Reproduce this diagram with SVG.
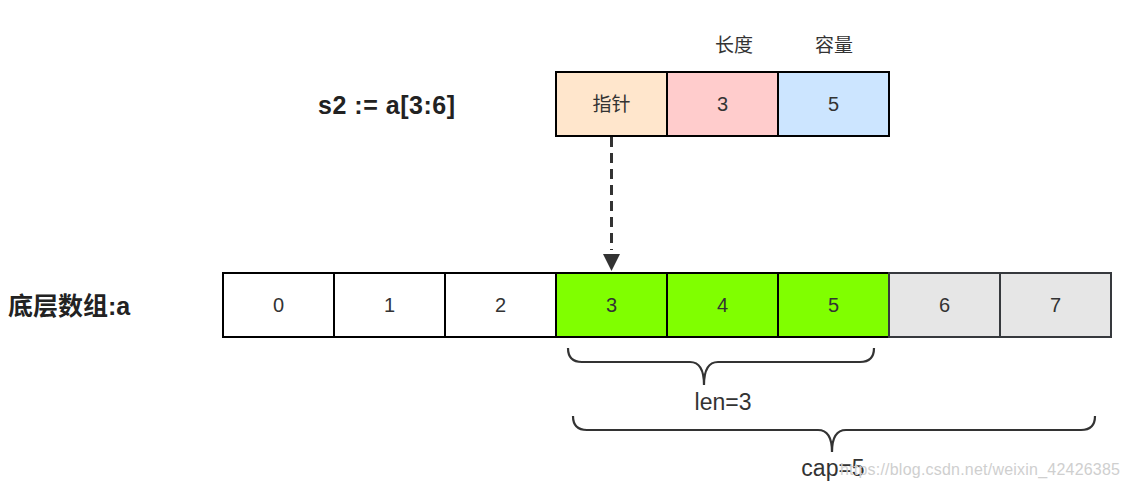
<svg xmlns="http://www.w3.org/2000/svg" width="1129" height="492" viewBox="0 0 1129 492">
<style>
.cell{stroke:#000;stroke-width:2}
.gcell{stroke:#36393d;stroke-width:2;fill:#e6e6e6}
.t{font-family:"Liberation Sans","Noto Sans CJK SC",sans-serif;fill:#333;text-anchor:middle}
.num{font-size:20px}
.lbl{font-family:"Liberation Sans","Noto Sans CJK SC",sans-serif;fill:#222;font-weight:bold}
.brace{fill:none;stroke:#333;stroke-width:2.2}
</style>
<defs>
<marker id="ah" viewBox="0 0 10 10" refX="10" refY="5" markerWidth="22" markerHeight="17" markerUnits="userSpaceOnUse" orient="auto">
<path d="M0,0 L10,5 L0,10 Z" fill="#333"/>
</marker>
</defs>
<rect width="1129" height="492" fill="#fff"/>
<text class="lbl" x="318" y="114" font-size="25" textLength="137">s2 := a[3:6]</text>
<text class="lbl" x="8" y="315" font-size="25">底层数组:a</text>
<text class="t" x="734" y="52" font-size="19">长度</text>
<text class="t" x="834" y="52" font-size="19">容量</text>
<g id="slice">
<g id="ptr"><rect class="cell" x="556" y="72" width="111" height="64" fill="#ffe6cc"/><text class="t" x="611.5" y="111" font-size="19">指针</text></g>
<g id="len"><rect class="cell" x="667" y="72" width="111" height="64" fill="#ffcccc"/><text class="t num" x="722.5" y="111">3</text></g>
<g id="cap"><rect class="cell" x="778" y="72" width="111" height="64" fill="#cce5ff"/><text class="t num" x="833.5" y="111">5</text></g>
</g>
<g id="array">
<g id="a0"><rect class="cell" x="223" y="273" width="111" height="64" fill="#fff"/><text class="t num" x="278.5" y="312">0</text></g>
<g id="a1"><rect class="cell" x="334" y="273" width="111" height="64" fill="#fff"/><text class="t num" x="389.5" y="312">1</text></g>
<g id="a2"><rect class="cell" x="445" y="273" width="111" height="64" fill="#fff"/><text class="t num" x="500.5" y="312">2</text></g>
<g id="a3"><rect class="cell" x="556" y="273" width="111" height="64" fill="#80ff00"/><text class="t num" x="611.5" y="312">3</text></g>
<g id="a4"><rect class="cell" x="667" y="273" width="111" height="64" fill="#80ff00"/><text class="t num" x="722.5" y="312">4</text></g>
<g id="a5"><rect class="cell" x="778" y="273" width="111" height="64" fill="#80ff00"/><text class="t num" x="833.5" y="312">5</text></g>
<g id="a6"><rect class="gcell" x="889" y="273" width="111" height="64"/><text class="t num" x="944.5" y="312">6</text></g>
<g id="a7"><rect class="gcell" x="1000" y="273" width="111" height="64"/><text class="t num" x="1055.5" y="312">7</text></g>
</g>
<g id="connectors">
<line x1="611.5" y1="137" x2="611.5" y2="250" stroke="#333" stroke-width="3" stroke-dasharray="10,6"/>
<line x1="611.5" y1="248" x2="611.5" y2="271" stroke="none" marker-end="url(#ah)"/>
</g>
<g id="braces">
<path class="brace" d="M568,348 Q568,362 582,362 L690,362 Q704,362 704,385 Q704,362 718,362 L860,362 Q874,362 874,348"/>
<text class="t" x="723" y="410" font-size="23">len=3</text>
<path class="brace" d="M573,416 Q573,430 587,430 L818,430 Q832,430 832,452 Q832,430 846,430 L1081,430 Q1095,430 1095,416"/>
<text class="t" x="833" y="476" font-size="23">cap=5</text>
</g>
<text x="840" y="475" font-family="Liberation Sans, sans-serif" font-size="16" fill="#cfcfcf" textLength="280">https://blog.csdn.net/weixin_42426385</text>
</svg>
